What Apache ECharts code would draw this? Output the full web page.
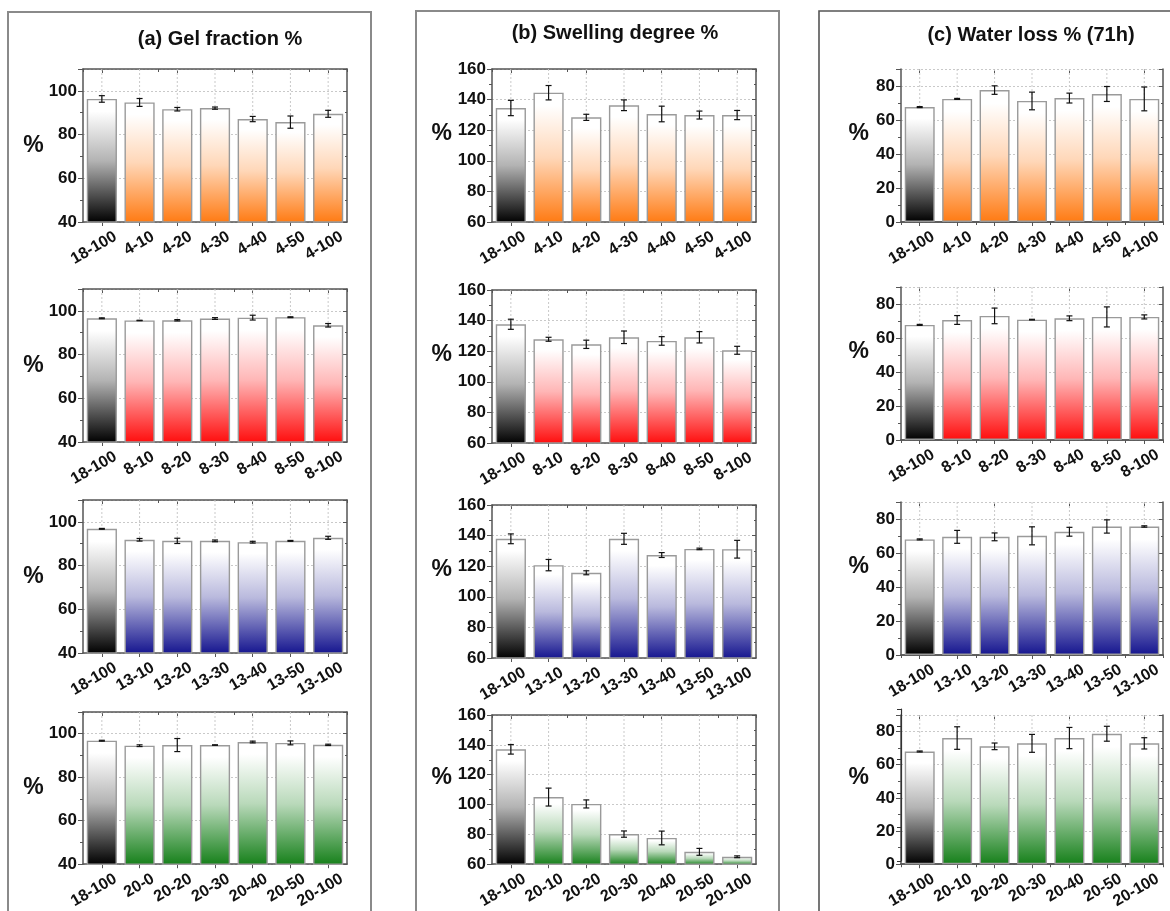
<!DOCTYPE html>
<html>
<head>
<meta charset="utf-8">
<script src="https://cdn.jsdelivr.net/npm/echarts/dist/echarts.min.js"></script>
<style>
  html, body { margin: 0; padding: 0; background: #ffffff; }
  #chart { width: 1170px; height: 911px; }
</style>
</head>
<body>
<div id="chart"></div>
<script>
// ---- sample labels (one row per crosslinker series) ----
const labelsOrange = ['18-100', '4-10', '4-20', '4-30', '4-40', '4-50', '4-100'];
const labelsRed    = ['18-100', '8-10', '8-20', '8-30', '8-40', '8-50', '8-100'];
const labelsBlue   = ['18-100', '13-10', '13-20', '13-30', '13-40', '13-50', '13-100'];
const labelsGreenGel = ['18-100', '20-0', '20-20', '20-30', '20-40', '20-50', '20-100'];
const labelsGreen  = ['18-100', '20-10', '20-20', '20-30', '20-40', '20-50', '20-100'];

// ---- (a) gel fraction %, mean and standard deviation ----
const gelOrange    = [96.3, 94.7, 91.6, 92.1, 87.1, 85.7, 89.5];
const gelOrangeErr = [1.5, 1.8, 0.8, 0.5, 1.2, 2.8, 1.6];
const gelRed       = [96.6, 95.6, 95.7, 96.5, 96.9, 97.1, 93.4];
const gelRedErr    = [0.2, 0.1, 0.3, 0.4, 1.1, 0.2, 0.8];
const gelBlue      = [96.8, 91.8, 91.3, 91.3, 90.7, 91.3, 92.7];
const gelBlueErr   = [0.2, 0.6, 1.2, 0.4, 0.4, 0.2, 0.7];
const gelGreen     = [96.8, 94.5, 94.8, 94.8, 96.2, 95.8, 94.9];
const gelGreenErr  = [0.2, 0.4, 3.0, 0.1, 0.4, 0.9, 0.3];

// ---- (b) swelling degree % ----
const swOrange     = [134.5, 144.5, 128.4, 136.3, 130.6, 129.9, 129.9];
const swOrangeErr  = [5.0, 4.7, 2.0, 3.5, 5.1, 2.6, 3.0];
const swRed        = [137.6, 127.8, 124.5, 129.1, 126.7, 129.1, 120.6];
const swRedErr     = [3.3, 1.3, 2.7, 4.1, 2.8, 3.7, 2.6];
const swBlue       = [137.9, 120.7, 115.7, 137.9, 127.3, 131.3, 131.1];
const swBlueErr    = [3.2, 3.7, 1.3, 3.6, 1.6, 0.5, 5.8];
const swGreen      = [137.0, 105.0, 100.4, 80.2, 77.6, 68.3, 65.0];
const swGreenErr   = [3.2, 6.0, 2.7, 2.1, 4.6, 2.3, 0.6];

// ---- (c) water loss % after 71 h ----
const wlOrange     = [67.6, 72.4, 77.6, 71.2, 72.9, 75.3, 72.4];
const wlOrangeErr  = [0.3, 0.3, 2.5, 5.2, 2.9, 4.4, 7.0];
const wlRed        = [67.7, 70.6, 73.0, 70.8, 71.6, 72.4, 72.4];
const wlRedErr     = [0.3, 2.6, 4.6, 0.2, 1.4, 5.9, 1.2];
const wlBlue       = [68.0, 69.5, 69.5, 70.1, 72.5, 75.6, 75.6];
const wlBlueErr    = [0.3, 3.8, 2.3, 5.3, 2.6, 3.9, 0.4];
const wlGreen      = [68.0, 76.1, 71.1, 72.9, 76.1, 78.7, 72.9];
const wlGreenErr   = [0.3, 6.8, 2.0, 5.4, 6.4, 4.5, 3.4];

// ---- axis ranges [min, max, interval] and panel titles ----
const gelAxis = [40, 110, 20];
const swAxis  = [60, 160, 20];
const wlAxis  = [0, 90, 20];
const panelTitles = ['(a) Gel fraction %', '(b) Swelling degree %', '(c) Water loss % (71h)'];
const yName = '%';

// ---- assemble ----
const FONT = '"Liberation Sans", Arial, Helvetica, sans-serif';
const TXT = '#111111';
const AXIS_COLOR = '#555555';
const rowColors = ['#ff7a12', '#ff0d0d', '#15158f', '#16801a'];

const columns = [
  { axis: gelAxis, rows: [
      [labelsOrange, gelOrange, gelOrangeErr],
      [labelsRed, gelRed, gelRedErr],
      [labelsBlue, gelBlue, gelBlueErr],
      [labelsGreenGel, gelGreen, gelGreenErr]] },
  { axis: swAxis, rows: [
      [labelsOrange, swOrange, swOrangeErr],
      [labelsRed, swRed, swRedErr],
      [labelsBlue, swBlue, swBlueErr],
      [labelsGreen, swGreen, swGreenErr]] },
  { axis: wlAxis, rows: [
      [labelsOrange, wlOrange, wlOrangeErr],
      [labelsRed, wlRed, wlRedErr],
      [labelsBlue, wlBlue, wlBlueErr],
      [labelsGreen, wlGreen, wlGreenErr]] }
];

const colLeft  = [83, 492, 901];
const colWidth = [264, 264, 262];
const rowTop   = [[69, 289, 500, 712], [69, 290, 505, 715], [69, 287, 502, 715]];
const plotH    = 153;
const nameGap  = [35, 40, 32];
const nameVAlign = ['middle', 'bottom', 'bottom'];

// blend a hex colour with white; t = share of the colour
function tint(hex, t) {
  const n = parseInt(hex.slice(1), 16);
  const ch = [(n >> 16) & 255, (n >> 8) & 255, n & 255].map(v => Math.round(255 + (v - 255) * t));
  return 'rgb(' + ch.join(',') + ')';
}

function fade(color) {
  return { type: 'linear', x: 0, y: 0, x2: 0, y2: 1, colorStops: [
    { offset: 0, color: '#ffffff' },
    { offset: 0.1, color: '#ffffff' },
    { offset: 0.5, color: tint(color, 0.3) },
    { offset: 1, color: color } ] };
}

function renderErr(params, api) {
  const i = api.value(0);
  const lo = api.coord([i, api.value(1)]);
  const hi = api.coord([i, api.value(2)]);
  const w = 3;
  const style = { stroke: '#111111', lineWidth: 1.2 };
  return { type: 'group', children: [
    { type: 'line', shape: { x1: lo[0], y1: lo[1], x2: hi[0], y2: hi[1] }, style: style },
    { type: 'line', shape: { x1: lo[0] - w, y1: lo[1], x2: lo[0] + w, y2: lo[1] }, style: style },
    { type: 'line', shape: { x1: hi[0] - w, y1: hi[1], x2: hi[0] + w, y2: hi[1] }, style: style } ] };
}

function renderVGrid(params, api) {
  const cs = params.coordSys;
  const p = api.coord([api.value(0), api.value(1)]);
  return { type: 'line', shape: { x1: p[0], y1: cs.y, x2: p[0], y2: cs.y + cs.height },
           style: { stroke: '#c9c9c9', lineWidth: 1, lineDash: [2, 2] } };
}

const grid = [], xAxis = [], yAxis = [], series = [];
const axisLine = { show: true, lineStyle: { color: AXIS_COLOR, width: 1.5 } };

columns.forEach((col, c) => {
  const [ymin, ymax, step] = col.axis;
  const maxOnGrid = (ymax - ymin) % step === 0;
  col.rows.forEach((row, r) => {
    const [cats, vals, errs] = row;
    const g = grid.length;
    grid.push({ left: colLeft[c], top: rowTop[c][r], width: colWidth[c], height: plotH });

    const xb = xAxis.length;
    xAxis.push({
      gridIndex: g, type: 'category', data: cats, position: 'bottom',
      axisLine: axisLine,
      axisTick: { show: true, alignWithLabel: true, length: 4, lineStyle: { color: AXIS_COLOR } },
      axisLabel: { interval: 0, rotate: 30, margin: 12, verticalAlign: 'top', padding: [0, -11, 0, 0],
                   fontFamily: FONT, fontWeight: 'bold', fontSize: 16, color: TXT },
      splitLine: { show: false }
    });
    xAxis.push({
      gridIndex: g, type: 'category', data: cats, position: 'top',
      axisLine: axisLine,
      axisTick: { show: true, inside: true, length: 3, lineStyle: { color: AXIS_COLOR } },
      axisLabel: { show: false }, splitLine: { show: false }
    });
    xAxis.push({
      gridIndex: g, type: 'category', data: cats, position: 'top',
      axisLine: { show: false },
      axisTick: { show: true, inside: true, alignWithLabel: true, length: 4, lineStyle: { color: AXIS_COLOR } },
      axisLabel: { show: false }, splitLine: { show: false }
    });

    const yl = yAxis.length;
    yAxis.push({
      gridIndex: g, type: 'value', min: ymin, max: ymax, interval: step, position: 'left',
      name: yName, nameLocation: 'middle', nameRotate: 0, nameGap: nameGap[c],
      nameTextStyle: { fontFamily: FONT, fontWeight: 'bold', fontSize: 23, color: TXT,
                       verticalAlign: nameVAlign[c] },
      axisLine: axisLine,
      axisTick: { show: true, length: 5, lineStyle: { color: AXIS_COLOR } },
      minorTick: { show: true, splitNumber: 2, length: 3, lineStyle: { color: AXIS_COLOR } },
      axisLabel: { showMaxLabel: maxOnGrid, margin: 6, fontFamily: FONT, fontWeight: 'bold', fontSize: 17, color: TXT },
      splitLine: { show: true, lineStyle: { color: '#c9c9c9', type: [2, 2], width: 1 } }
    });
    yAxis.push({
      gridIndex: g, type: 'value', min: ymin, max: ymax, interval: step, position: 'right',
      axisLine: axisLine,
      axisTick: { show: true, inside: true, length: 4, lineStyle: { color: AXIS_COLOR } },
      minorTick: { show: true, splitNumber: 2, length: 2, lineStyle: { color: AXIS_COLOR } },
      axisLabel: { show: false }, splitLine: { show: false }
    });

    series.push({
      type: 'custom', xAxisIndex: xb, yAxisIndex: yl, z: 1, silent: true,
      renderItem: renderVGrid,
      data: cats.map((_, i) => [i, ymin])
    });
    series.push({
      type: 'bar', xAxisIndex: xb, yAxisIndex: yl, z: 2, barWidth: '80%',
      data: vals,
      itemStyle: {
        color: (p) => p.dataIndex === 0 ? fade('#000000') : fade(rowColors[r]),
        borderColor: '#9a9a9a', borderWidth: 1.4
      }
    });
    series.push({
      type: 'custom', xAxisIndex: xb, yAxisIndex: yl, z: 3, silent: true,
      renderItem: renderErr,
      data: vals.map((v, i) => [i, v - errs[i], v + errs[i]])
    });
  });
});

// a stray duplicated axis line sitting at the right of the last water-loss panel
{
  const g = grid.length;
  grid.push({ left: 901, top: 709, width: 267, height: 152 });
  xAxis.push({ gridIndex: g, type: 'value', show: false });
  yAxis.push({
    gridIndex: g, type: 'value', min: wlAxis[0], max: wlAxis[1], interval: wlAxis[2], position: 'right',
    axisLine: { show: true, lineStyle: { color: '#333333', width: 1.2 } },
    axisTick: { show: true, inside: true, length: 4, lineStyle: { color: '#333333' } },
    axisLabel: { show: false }, splitLine: { show: false }
  });
}

const graphic = [
  { type: 'rect', z: 0, silent: true, shape: { x: 8, y: 12, width: 363, height: 1000 },
    style: { fill: 'none', stroke: '#8a8a8a', lineWidth: 2 } },
  { type: 'rect', z: 0, silent: true, shape: { x: 416, y: 11, width: 363, height: 1000 },
    style: { fill: 'none', stroke: '#8a8a8a', lineWidth: 2 } },
  { type: 'rect', z: 0, silent: true, shape: { x: 819, y: 11, width: 500, height: 1000 },
    style: { fill: 'none', stroke: '#555555', lineWidth: 1.6 } }
];
const titleX = [220, 615, 1031];
const titleY = [39, 33, 35];
panelTitles.forEach((t, i) => {
  graphic.push({ type: 'text', x: titleX[i], y: titleY[i], silent: true,
    style: { text: t, align: 'center', verticalAlign: 'middle', fill: TXT,
             font: 'bold 20px ' + FONT } });
});

const chart = echarts.init(document.getElementById('chart'), null, { renderer: 'canvas' });
chart.setOption({
  animation: false,
  backgroundColor: '#ffffff',
  grid: grid, xAxis: xAxis, yAxis: yAxis, series: series, graphic: graphic
});
</script>
</body>
</html>
